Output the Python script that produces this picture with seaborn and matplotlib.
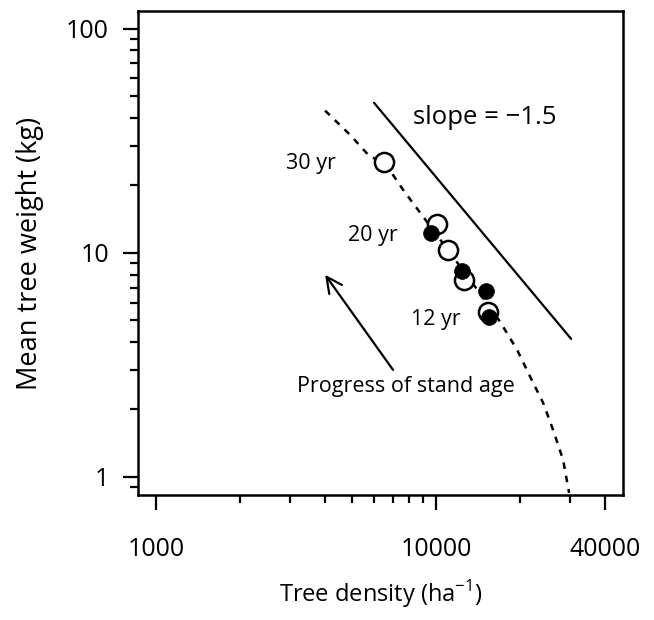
import matplotlib
matplotlib.use("Agg")
import matplotlib.pyplot as plt
import seaborn as sns
import pandas as pd
from matplotlib.ticker import LogLocator, FixedLocator, NullFormatter

sns.set_theme(style="white")
plt.rcParams['font.family'] = ['Open Sans', 'DejaVu Sans']
plt.rcParams['mathtext.fontset'] = 'custom'
plt.rcParams['mathtext.rm'] = 'Open Sans'

# open-circle observations (density, mean weight)
open_density = [6520, 10100, 11060, 12620, 15370]
open_weight = [25.5, 13.5, 10.3, 7.58, 5.47]
# filled-circle observations
filled_density = [9600, 12350, 15080, 15460]
filled_weight = [12.3, 8.31, 6.72, 5.19]
# dashed self-thinning curve, read along its path
curve_density = [4015, 4931, 5812, 6520, 7624, 8988, 10768, 13224, 16930,
                 19464, 21665, 24109, 26172, 28420, 29854]
curve_weight = [43.1, 33.6, 26.8, 25.5, 19.1, 14.5, 10.7, 7.58, 4.92,
                3.69, 2.80, 2.14, 1.62, 1.19, 0.848]
# -1.5 slope reference line
slope_density = [6005, 30350]
slope_weight = [46.7, 4.13]
# arrow (tail -> head)
arrow_tail = (7021, 3.0)
arrow_head = (4015, 7.98)
# labels
age_labels = ["30 yr", "20 yr", "12 yr"]
age_label_pos = [(3577, 25.0), (5957, 11.9), (10000, 5.02)]
x_ticks = [1000, 10000, 40000]
y_ticks = [1, 10, 100]

fig = plt.figure(figsize=(6.54, 6.2), dpi=100)
ax = fig.add_axes([138/654, 1-495/620, (623-138)/654, (495-11)/620])

sns.lineplot(x=curve_density, y=curve_weight, ax=ax, sort=False, estimator=None,
             color="black", lw=1.8, linestyle=(0, (2.6, 2.8)), zorder=2)
sns.lineplot(x=slope_density, y=slope_weight, ax=ax, sort=False, estimator=None,
             color="black", lw=1.6, zorder=2)
sns.scatterplot(x=open_density, y=open_weight, ax=ax, s=190, marker="o",
                facecolor="white", edgecolor="black", linewidth=1.8, zorder=3)
sns.scatterplot(x=filled_density, y=filled_weight, ax=ax, s=130, marker="o",
                color="black", edgecolor="black", linewidth=0.5, zorder=4)

ax.annotate("", xy=arrow_head, xytext=arrow_tail,
            arrowprops=dict(arrowstyle="->", color="black", lw=1.6,
                            mutation_scale=28, shrinkA=0, shrinkB=0))

for t, (x, y) in zip(age_labels, age_label_pos):
    ax.text(x, y, t, ha="center", va="center", fontsize=15.5, color="black")
ax.text(14962, 40.0, "slope = \u22121.5", ha="center", va="center", fontsize=18.5, color="black")
ax.text(7815, 2.52, "Progress of stand age", ha="center", va="center", fontsize=15.5, color="black")

ax.set_xscale("log")
ax.set_yscale("log")
ax.set_xlim(862, 46500)
ax.set_ylim(0.83, 120)

ax.xaxis.set_major_locator(FixedLocator(x_ticks))
ax.set_xticklabels([str(v) for v in x_ticks])
ax.xaxis.set_minor_locator(FixedLocator([2000, 3000, 4000, 5000, 6000, 7000, 8000, 9000, 20000, 30000]))
ax.xaxis.set_minor_formatter(NullFormatter())
ax.yaxis.set_major_locator(FixedLocator(y_ticks))
ax.set_yticklabels([str(v) for v in y_ticks])
ax.yaxis.set_minor_locator(LogLocator(base=10, subs=range(2, 10)))
ax.yaxis.set_minor_formatter(NullFormatter())

ax.tick_params(which="major", direction="out", length=11, width=1.6, colors="black",
               labelsize=18, bottom=True, left=True)
ax.tick_params(axis="x", which="major", pad=19)
ax.tick_params(axis="y", which="major", pad=10)
ax.tick_params(which="minor", direction="out", length=6, width=1.6, colors="black",
               bottom=True, left=True)

for s in ax.spines.values():
    s.set_color("black")
    s.set_linewidth(1.8)

ax.set_xlabel("Tree density (ha$^{-1}$)", fontsize=17, color="black", labelpad=12)
ax.set_ylabel("Mean tree weight (kg)", fontsize=19.5, color="black", labelpad=16)

fig.savefig("out.png", dpi=100)
